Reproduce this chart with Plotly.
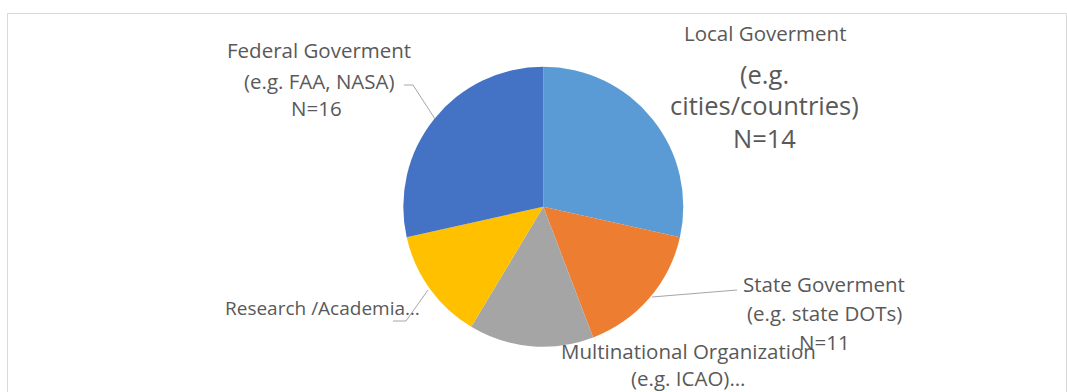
import plotly.graph_objects as go

W, H = 1067, 392

categories = ["Local Goverment", "State Goverment", "Multinational Organization",
              "Research /Academia", "Federal Goverment"]
values = [28.5, 15.7, 14.4, 12.9, 28.5]
colors = ["#5B9BD5", "#ED7D31", "#A5A5A5", "#FFC000", "#4472C4"]

TXT = "#595959"
FONT = "Open Sans"
S = 20.5
L = 25.5

def px(x, y):
    return x / W, 1 - y / H

# pie geometry (pixels)
cx, cy, r = 543.3, 206.7, 140

fig = go.Figure(go.Pie(
    labels=categories, values=values, sort=False, direction="clockwise",
    rotation=0, textinfo="none", hoverinfo="label+value",
    marker=dict(colors=colors, line=dict(width=0)),
    domain=dict(x=[(cx - r) / W, (cx + r) / W], y=[(H - cy - r) / H, (H - cy + r) / H]),
    showlegend=False,
))

# label lines: (text, center x px, center y px, size)
label_lines = [
    ("Local Goverment", 765, 33, S),
    ("(e.g.", 765, 74, L),
    ("cities/countries)", 764, 105, L),
    ("N=14", 765, 138, L),
    ("Federal Goverment", 319, 50, S),
    ("(e.g. FAA, NASA)", 319, 81, S),
    ("N=16", 316, 108, S),
    ("State Goverment", 824, 284, S),
    ("(e.g. state DOTs)", 824, 313, S),
    ("N=11", 824, 342, S),
    ("Multinational Organization", 688, 351, S),
    ("(e.g. ICAO)…", 688, 378, S),
    ("Research /Academia…", 322, 308, 19),
]
annotations = []
for t, x, y, s in label_lines:
    ax, ay = px(x, y)
    annotations.append(dict(text=t, x=ax, y=ay, xref="paper", yref="paper",
                            xanchor="center", yanchor="middle", showarrow=False,
                            font=dict(family=FONT, size=s, color=TXT)))

# leader lines (pixel paths)
leaders = [
    [(404, 85), (413, 85), (435, 119)],
    [(652, 297), (737, 290)],
    [(393, 321), (406, 321), (428, 290)],
]
shapes = []
for pts in leaders:
    path = "M " + " L ".join(f"{px(x, y)[0]:.5f},{px(x, y)[1]:.5f}" for x, y in pts)
    shapes.append(dict(type="path", path=path, xref="paper", yref="paper",
                       line=dict(color="#A6A6A6", width=1)))

# chart border
x0, y0 = px(7.5, 13.5)
x1, y1 = px(1066.5, 400)
shapes.append(dict(type="rect", x0=x0, y0=y1, x1=x1, y1=y0, xref="paper", yref="paper",
                   line=dict(color="#D9D9D9", width=1), layer="below"))

fig.update_layout(
    width=W, height=H, margin=dict(l=0, r=0, t=0, b=0),
    paper_bgcolor="white", plot_bgcolor="white",
    annotations=annotations, shapes=shapes,
)

fig.write_html("out.html")
